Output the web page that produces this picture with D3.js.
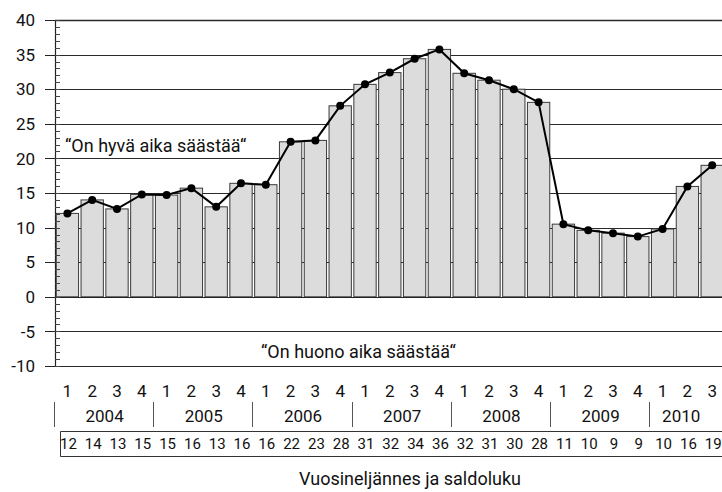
<!DOCTYPE html>
<html>
<head>
<meta charset="utf-8">
<script src="https://cdn.jsdelivr.net/npm/d3@7"></script>
<style>
  html, body { margin: 0; padding: 0; background: #fff; }
  svg { display: block; }
  text { font-family: "Roboto", "Liberation Sans", sans-serif; fill: #111; }
</style>
</head>
<body>
<div id="chart"></div>
<script>
// Quarterly saving-sentiment balance ("saldoluku"), 2004 Q1 – 2010 Q3
const quarterLabels = ["1","2","3","4","1","2","3","4","1","2","3","4","1","2","3","4",
                       "1","2","3","4","1","2","3","4","1","2","3"];
const saldo = [12.05, 14.0, 12.7, 14.8, 14.7, 15.7, 13.0, 16.4,
               16.2, 22.4, 22.6, 27.6, 30.7, 32.4, 34.4, 35.75,
               32.3, 31.3, 30.0, 28.1, 10.5, 9.6, 9.2, 8.7,
               9.8, 15.95, 19.0];
const years = ["2004","2005","2006","2007","2008","2009","2010"];
const quartersPerYear = [4, 4, 4, 4, 4, 4, 3];
const yTicks = [-10, -5, 0, 5, 10, 15, 20, 25, 30, 35, 40];
const goodLabel = "\u201COn hyvä aika säästää\u201C";
const badLabel = "\u201COn huono aika säästää\u201C";
const axisTitle = "Vuosineljännes ja saldoluku";

const W = 722, H = 492;
const plotLeft = 55, plotTop = 20, plotBottom = 366;
const step = 24.8;
const plotRight = plotLeft + step * saldo.length;

const svg = d3.select("#chart").append("svg")
  .attr("width", W).attr("height", H);

const x = d3.scaleBand()
  .domain(d3.range(saldo.length))
  .range([plotLeft, plotRight])
  .paddingInner(0.1)
  .paddingOuter(0.05);
const slot = d3.scaleBand()
  .domain(d3.range(saldo.length))
  .range([plotLeft, plotRight])
  .padding(0);
const y = d3.scaleLinear().domain([-10, 40]).range([plotBottom, plotTop]);

// horizontal gridlines (behind bars)
svg.append("g").selectAll("line").data(yTicks).join("line")
  .attr("x1", plotLeft).attr("x2", W)
  .attr("y1", d => Math.round(y(d)) + 0.5).attr("y2", d => Math.round(y(d)) + 0.5)
  .attr("stroke", "#2a2a2a").attr("stroke-width", d => d === 40 ? 1.5 : 1);

// bars
svg.append("g").selectAll("rect").data(saldo).join("rect")
  .attr("x", (d, i) => x(i))
  .attr("width", x.bandwidth())
  .attr("y", d => y(d))
  .attr("height", d => y(0) - y(d))
  .attr("fill", "#dcdcdc")
  .attr("stroke", "#3a3a3a")
  .attr("stroke-width", 1);

// zero line over the bar bases
svg.append("line")
  .attr("x1", plotLeft).attr("x2", W)
  .attr("y1", Math.round(y(0)) + 0.5).attr("y2", Math.round(y(0)) + 0.5)
  .attr("stroke", "#222").attr("stroke-width", 1);

// y axis: line, major ticks to the left, minor ticks to the right
const axisG = svg.append("g");
axisG.append("line")
  .attr("x1", plotLeft + 0.5).attr("x2", plotLeft + 0.5)
  .attr("y1", y(40)).attr("y2", y(-10))
  .attr("stroke", "#222").attr("stroke-width", 1.2);
axisG.selectAll("line.major").data(yTicks).join("line").attr("class", "major")
  .attr("x1", plotLeft - 10).attr("x2", plotLeft)
  .attr("y1", d => Math.round(y(d)) + 0.5).attr("y2", d => Math.round(y(d)) + 0.5)
  .attr("stroke", "#222");
axisG.selectAll("line.minor").data(d3.range(-10, 41, 1)).join("line").attr("class", "minor")
  .attr("x1", plotLeft).attr("x2", plotLeft + 5)
  .attr("y1", d => Math.round(y(d)) + 0.5).attr("y2", d => Math.round(y(d)) + 0.5)
  .attr("stroke", "#444");
axisG.selectAll("text").data(yTicks).join("text")
  .attr("x", 35).attr("y", d => y(d)).attr("dy", "0.36em")
  .attr("text-anchor", "end").attr("font-size", 17)
  .text(d => d);

// line with markers
const line = d3.line()
  .x((d, i) => x(i) + x.bandwidth() / 2)
  .y(d => y(d));
svg.append("path").datum(saldo)
  .attr("d", line).attr("fill", "none")
  .attr("stroke", "#000").attr("stroke-width", 2);
svg.append("g").selectAll("circle").data(saldo).join("circle")
  .attr("cx", (d, i) => x(i) + x.bandwidth() / 2)
  .attr("cy", d => y(d))
  .attr("r", 4).attr("fill", "#000");

// annotations
svg.append("text").attr("x", 65).attr("y", 152).attr("font-size", 18).text(goodLabel);
svg.append("text").attr("x", 261).attr("y", 358).attr("font-size", 18).text(badLabel);

// quarter numbers
svg.append("g").selectAll("text").data(quarterLabels).join("text")
  .attr("x", (d, i) => slot(i) + slot.bandwidth() / 2)
  .attr("y", 397).attr("text-anchor", "middle").attr("font-size", 17)
  .text(d => d);

// year groups with separators
const starts = quartersPerYear.map((n, i) => d3.sum(quartersPerYear.slice(0, i)));
const yearG = svg.append("g");
yearG.selectAll("line").data(starts).join("line")
  .attr("x1", d => Math.round(slot(d)) - 0.5).attr("x2", d => Math.round(slot(d)) - 0.5)
  .attr("y1", 402).attr("y2", 427)
  .attr("stroke", "#555").attr("stroke-width", 1);
yearG.selectAll("text").data(years).join("text")
  .attr("x", (d, i) => {
    const s = starts[i], n = quartersPerYear[i];
    const x0 = slot(s);
    const x1 = n === 4 ? slot(s) + n * step : slot(s + n - 1) + step / 2;
    return (x0 + x1) / 2;
  })
  .attr("y", 422).attr("text-anchor", "middle").attr("font-size", 17)
  .text(d => d);

// rounded balance values in a boxed row
const fmt = d3.format(".0f");
svg.append("path")
  .attr("d", `M${W},431.5 H60.5 V456.5 H${W}`)
  .attr("fill", "none").attr("stroke", "#333").attr("stroke-width", 1);
svg.append("g").selectAll("text").data(saldo).join("text")
  .attr("x", (d, i) => slot(i) + slot.bandwidth() / 2 + 1)
  .attr("y", 449).attr("text-anchor", "middle").attr("font-size", 15)
  .text(d => fmt(d));

// axis title
svg.append("text").attr("x", 410).attr("y", 485)
  .attr("text-anchor", "middle").attr("font-size", 18)
  .text(axisTitle);
</script>
</body>
</html>
